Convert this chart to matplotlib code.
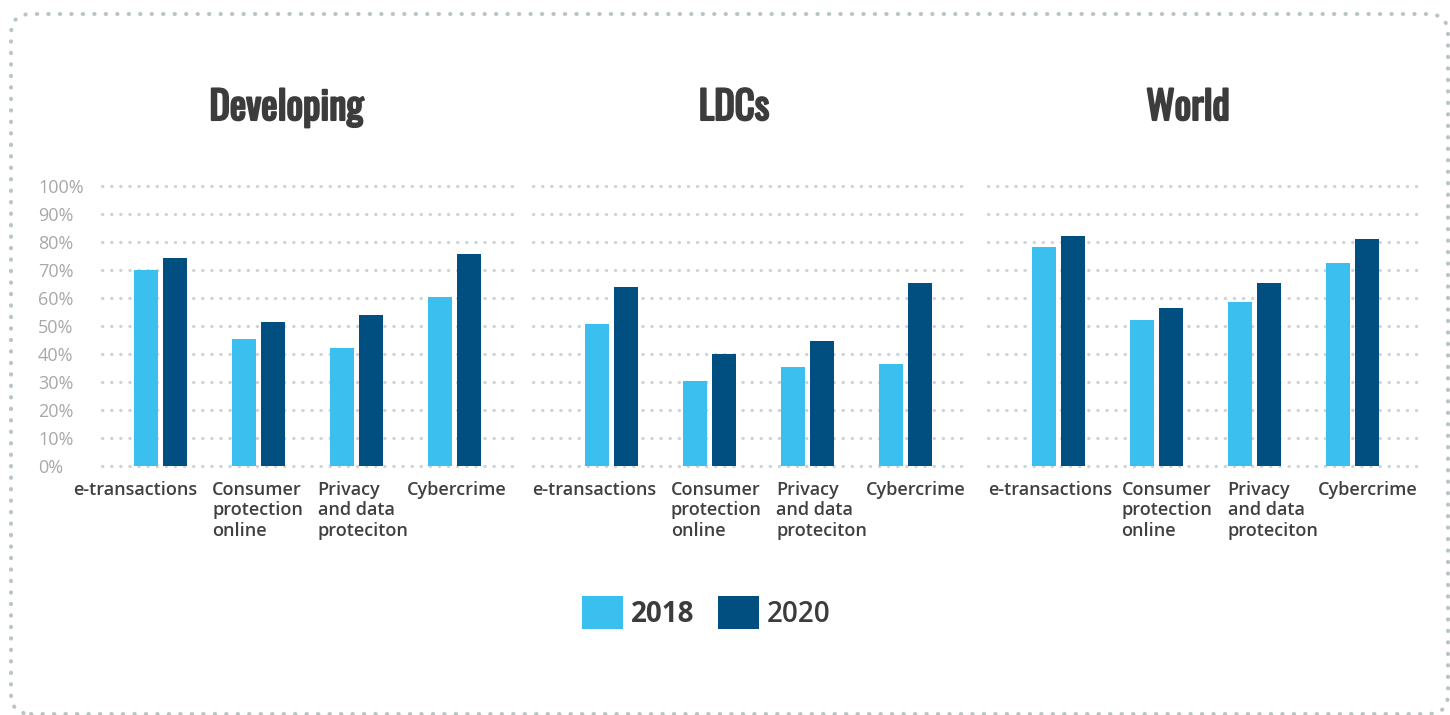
import matplotlib
matplotlib.use("Agg")
import matplotlib.pyplot as plt
from matplotlib import font_manager as fm
from matplotlib import patheffects as pe
from matplotlib.patches import FancyBboxPatch, Patch
from matplotlib.transforms import ScaledTranslation, blended_transform_factory, IdentityTransform

# ---------------------------------------------------------------- data
regions = ["Developing", "LDCs", "World"]
categories = [
    "e-transactions",
    "Consumer\nprotection\nonline",
    "Privacy\nand data\nproteciton",
    "Cybercrime",
]
years = ["2018", "2020"]

developing_2018 = [70.0, 45.2, 42.0, 60.2]
developing_2020 = [74.2, 51.3, 53.8, 75.6]
ldcs_2018 = [50.6, 30.2, 35.2, 36.3]
ldcs_2020 = [63.8, 39.9, 44.5, 65.2]
world_2018 = [78.1, 52.0, 58.5, 72.4]
world_2020 = [82.0, 56.3, 65.2, 81.0]

y_ticks = [0, 10, 20, 30, 40, 50, 60, 70, 80, 90, 100]
y_tick_labels = ["0%", "10%", "20%", "30%", "40%", "50%",
                 "60%", "70%", "80%", "90%", "100%"]

series = {
    "Developing": (developing_2018, developing_2020),
    "LDCs": (ldcs_2018, ldcs_2020),
    "World": (world_2018, world_2020),
}

# ---------------------------------------------------------------- style
W, H, DPI = 1450, 715, 100
C_2018 = "#3bbfee"
C_2020 = "#014f80"
GRID_C = "#cdd4d5"
BORDER_C = "#b9c4c5"
YLAB_C = "#a8a8a8"
XLAB_C = "#404040"
TITLE_C = "#3c3c3c"

installed = {f.name for f in fm.fontManager.ttflist}


def pick(*names):
    for n in names:
        if n in installed:
            return n
    return "DejaVu Sans"


def font_file(*stems):
    for stem in stems:
        for f in fm.fontManager.ttflist:
            if f.fname.split("/")[-1].startswith(stem):
                return f.fname
    return None


BODY_FONT = pick("Open Sans", "Noto Sans", "DejaVu Sans")
_title_file = font_file("Oswald", "FjallaOne", "RobotoCondensed-Bold")
if _title_file:
    TITLE_PROP = fm.FontProperties(fname=_title_file)
else:
    TITLE_PROP = fm.FontProperties(family="DejaVu Sans", weight="bold")

fig = plt.figure(figsize=(W / DPI, H / DPI), dpi=DPI)
fig.patch.set_facecolor("white")

# plot area vertical extent (pixels from top)
Y_TOP, Y_BOT = 185.7, 465.7
STEP = 98.0          # pixel distance between category groups
BAR_W = 24.0         # bar width in pixels
BAR_OFF = 14.5       # half distance between paired bar centres
DOTS = (0, (0.1, 2.75))

# (left px, right px, first group centre px)
panels_px = [(102, 512, 160.5), (533, 967, 611.5), (988, 1422, 1058.5)]
title_x = [286.5, 734, 1188]
# left edge of each category label relative to its group centre (px)
label_dx = [[-87.5, -46.5, -39, -47.5],
            [-79.5, -38.5, -31, -39.5],
            [-70.5, -35, -27, -35]]

for p, region in enumerate(regions):
    left, right, c0 = panels_px[p]
    ax = fig.add_axes([left / W, (H - Y_BOT) / H, (right - left) / W, (Y_BOT - Y_TOP) / H])
    ax.set_xlim((left - c0) / STEP, (right - c0) / STEP)
    ax.set_ylim(0, 100)
    for s in ax.spines.values():
        s.set_visible(False)

    # dotted horizontal gridlines
    for v in y_ticks:
        ax.axhline(v, color=GRID_C, lw=2.3, linestyle=DOTS,
                   dash_capstyle="round", clip_on=False, zorder=0)

    v18, v20 = series[region]
    xs = list(range(len(categories)))
    ax.bar([x - BAR_OFF / STEP for x in xs], v18, width=BAR_W / STEP,
           color=C_2018, zorder=2, linewidth=0)
    ax.bar([x + BAR_OFF / STEP for x in xs], v20, width=BAR_W / STEP,
           color=C_2020, zorder=2, linewidth=0)

    ax.set_xticks([])
    ax.set_yticks(y_ticks)
    ax.tick_params(axis="y", length=0)
    if p == 0:
        ax.set_yticklabels(y_tick_labels, fontsize=13, color=YLAB_C,
                           family=BODY_FONT, fontweight="normal")
        ax.tick_params(axis="y", pad=46)
        for t in ax.get_yticklabels():
            t.set_horizontalalignment("left")
    else:
        ax.tick_params(axis="y", labelleft=False)

    # category labels below the bars
    base = blended_transform_factory(ax.transData, ax.transAxes)
    for i, lab in enumerate(categories):
        tr = base + ScaledTranslation(label_dx[p][i] / DPI, -15 / DPI, fig.dpi_scale_trans)
        ax.text(i, 0, lab, transform=tr, ha="left", va="top",
                multialignment="left", fontsize=13, fontweight="semibold",
                family=BODY_FONT, color=XLAB_C, linespacing=1.18)

    fig.text(title_x[p] / W, 1 - 120 / H, region, ha="center", va="baseline",
             fontproperties=TITLE_PROP, fontsize=28, color=TITLE_C,
             path_effects=[pe.withStroke(linewidth=1.5, foreground=TITLE_C)])

# legend
handles = [Patch(facecolor=C_2018, edgecolor="none"),
           Patch(facecolor=C_2020, edgecolor="none")]
leg = fig.legend(handles, years, loc="center",
                 bbox_to_anchor=(706.5 / W, 1 - 612.5 / H), ncol=2,
                 frameon=False, borderpad=0, handlelength=1.475,
                 handleheight=1.475, handletextpad=0.29, columnspacing=0.83,
                 prop={"family": BODY_FONT, "size": 20, "weight": "bold"})
for t in leg.get_texts():
    t.set_color(TITLE_C)
leg.get_texts()[1].set_fontweight("semibold")

# rounded dotted frame around the whole figure
frame = FancyBboxPatch((11, H - 714), 1437, 700,
                       boxstyle="round,pad=0,rounding_size=20",
                       transform=IdentityTransform(), fill=False,
                       edgecolor=BORDER_C, lw=2.9, linestyle=DOTS,
                       capstyle="round")
fig.add_artist(frame)

fig.savefig("out.png", dpi=DPI)
